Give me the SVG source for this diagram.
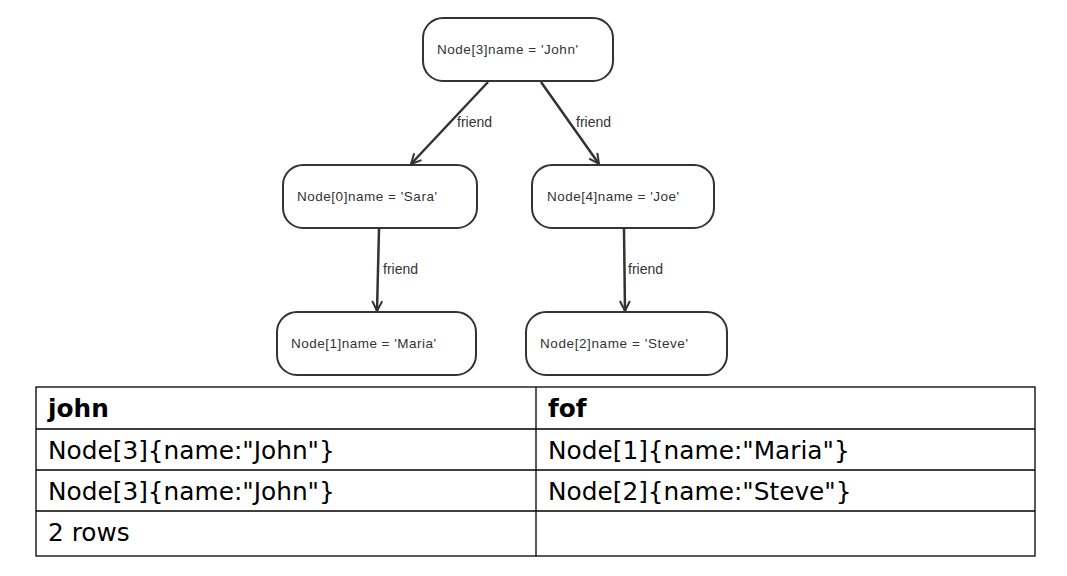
<svg xmlns="http://www.w3.org/2000/svg" width="1067" height="576" viewBox="0 0 1067 576">
<style>
.node rect{fill:#fff;stroke:#333;stroke-width:2}
.node text{font-family:"Liberation Sans",Arial,sans-serif;font-size:13.5px;fill:#333}
.edge line{stroke:#333;stroke-width:2.5}
.lbl{font-family:"Liberation Sans",Arial,sans-serif;font-size:14px;fill:#333}
.tbl line,.tbl rect{stroke:#000;stroke-width:1.3;fill:none}
.tbl text{font-family:"DejaVu Sans",sans-serif;font-size:24.8px;fill:#000}
.tbl .h{font-weight:bold}
</style>
<defs>
<marker id="arr" viewBox="0 0 12 12" refX="11" refY="6" markerWidth="12" markerHeight="12" markerUnits="userSpaceOnUse" orient="auto">
<path d="M1,1 L11,6 L1,11" fill="none" stroke="#333" stroke-width="2"/>
</marker>
</defs>
<rect width="1067" height="576" fill="#fff"/>
<g id="connectors" class="edge">
<line x1="488" y1="82" x2="411" y2="164" marker-end="url(#arr)"/>
<line x1="541" y1="82" x2="599" y2="164" marker-end="url(#arr)"/>
<line x1="379" y1="229" x2="377" y2="311" marker-end="url(#arr)"/>
<line x1="624" y1="229" x2="625" y2="311" marker-end="url(#arr)"/>
<text class="lbl" x="457" y="127">friend</text>
<text class="lbl" x="576" y="127">friend</text>
<text class="lbl" x="383" y="274">friend</text>
<text class="lbl" x="628" y="274">friend</text>
</g>
<g id="n3" class="node"><rect x="423" y="18" width="190" height="63" rx="20"/><text x="437" y="54" textLength="141">Node[3]name = 'John'</text></g>
<g id="n0" class="node"><rect x="283" y="165" width="194" height="63" rx="20"/><text x="297" y="201" textLength="140">Node[0]name = 'Sara'</text></g>
<g id="n4" class="node"><rect x="532" y="165" width="182" height="63" rx="20"/><text x="547" y="201" textLength="132">Node[4]name = 'Joe'</text></g>
<g id="n1" class="node"><rect x="277" y="312" width="199" height="63" rx="20"/><text x="291" y="348" textLength="145">Node[1]name = 'Maria'</text></g>
<g id="n2" class="node"><rect x="526" y="312" width="201" height="63" rx="20"/><text x="540" y="348" textLength="148">Node[2]name = 'Steve'</text></g>
<g id="table" class="tbl">
<rect x="36" y="387" width="999" height="169"/>
<line x1="536" y1="387" x2="536" y2="556"/>
<line x1="36" y1="429" x2="1035" y2="429"/>
<line x1="36" y1="470" x2="1035" y2="470"/>
<line x1="36" y1="511" x2="1035" y2="511"/>
<text class="h" x="48" y="417">john</text>
<text class="h" x="548" y="417">fof</text>
<text x="48" y="459">Node[3]{name:"John"}</text>
<text x="548" y="459">Node[1]{name:"Maria"}</text>
<text x="48" y="500">Node[3]{name:"John"}</text>
<text x="548" y="500">Node[2]{name:"Steve"}</text>
<text x="48" y="541">2 rows</text>
</g>
</svg>
